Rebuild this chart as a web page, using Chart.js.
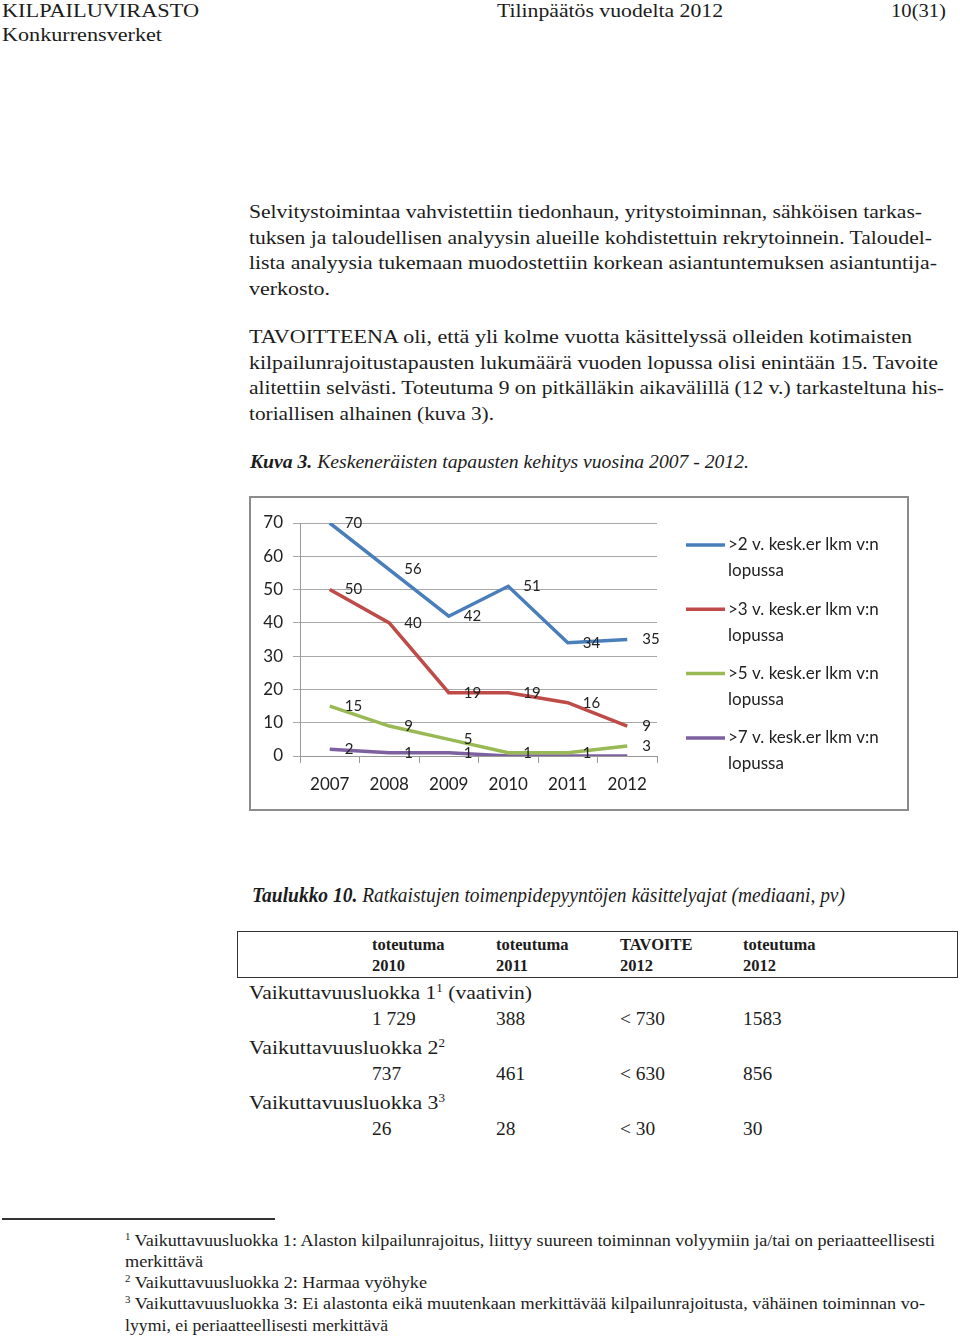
<!DOCTYPE html>
<html lang="fi">
<head>
<meta charset="utf-8">
<title>Tilinpäätös vuodelta 2012</title>
<script src="https://cdn.jsdelivr.net/npm/chart.js@4.4.1/dist/chart.umd.min.js"></script>
<style>
  body { margin: 0; background: #fff; }
  .page { position: relative; width: 960px; height: 1338px; overflow: hidden; color: #1c1c1c;
          font-family: 'Liberation Serif', 'DejaVu Serif', serif; }
  .ln { position: absolute; white-space: nowrap; line-height: 1; font-size: 19.4px; transform-origin: 0 50%; }
  .hd { font-size: 19.4px; line-height: 1.15; }
  .th { font-weight: bold; font-size: 16.5px; }
  .fn { font-size: 16px; }
  .ti { font-style: italic; }
  sup { font-size: 60%; line-height: 0; vertical-align: 0.6em; }
  .box { position: absolute; left: 237px; top: 931px; width: 721px; height: 47px; border: 1.5px solid #333; box-sizing: border-box; }
  .rule { position: absolute; left: 2px; top: 1218px; width: 273px; height: 2px; background: #333; }
  .chartbox { position: absolute; left: 249px; top: 496px; width: 660px; height: 315px;
              border: 2px solid #8c8c8c; box-sizing: border-box; }
  .chartbox canvas { position: absolute; left: 1px; top: 1px; }
</style>
</head>
<body>
<div class="page">
  <div class="ln hd" style="left:2px;top:0px" data-w="197">KILPAILUVIRASTO</div>
  <div class="ln hd" style="left:497px;top:0px" data-w="226">Tilinpäätös vuodelta 2012</div>
  <div class="ln hd" style="left:891px;top:0px" data-w="55">10(31)</div>
  <div class="ln hd" style="left:2px;top:24px" data-w="160">Konkurrensverket</div>

  <div class="ln" style="left:249px;top:202px" data-w="673">Selvitystoimintaa vahvistettiin tiedonhaun, yritystoiminnan, sähköisen tarkas-</div>
  <div class="ln" style="left:249px;top:228px" data-w="683">tuksen ja taloudellisen analyysin alueille kohdistettuin rekrytoinnein. Taloudel-</div>
  <div class="ln" style="left:249px;top:253px" data-w="688">lista analyysia tukemaan muodostettiin korkean asiantuntemuksen asiantuntija-</div>
  <div class="ln" style="left:249px;top:279px" data-w="81">verkosto.</div>

  <div class="ln" style="left:249px;top:327px" data-w="663">TAVOITTEENA oli, että yli kolme vuotta käsittelyssä olleiden kotimaisten</div>
  <div class="ln" style="left:249px;top:353px" data-w="689">kilpailunrajoitustapausten lukumäärä vuoden lopussa olisi enintään 15. Tavoite</div>
  <div class="ln" style="left:249px;top:378px" data-w="695">alitettiin selvästi. Toteutuma 9 on pitkälläkin aikavälillä (12 v.) tarkasteltuna his-</div>
  <div class="ln" style="left:249px;top:404px" data-w="245">toriallisen alhainen (kuva 3).</div>

  <div class="ln ti" style="left:250px;top:452px" data-w="499"><b>Kuva 3.</b> Keskeneräisten tapausten kehitys vuosina 2007 - 2012.</div>

  <div class="chartbox"><canvas id="myChart" width="654" height="309"></canvas></div>

  <div class="ln ti" style="left:252px;top:885px;font-size:21px" data-w="593"><b>Taulukko 10.</b> Ratkaistujen toimenpidepyyntöjen käsittelyajat (mediaani, pv)</div>

  <div class="box"></div>
  <div class="ln th" style="left:372px;top:937px">toteutuma</div>
  <div class="ln th" style="left:496px;top:937px">toteutuma</div>
  <div class="ln th" style="left:620px;top:937px">TAVOITE</div>
  <div class="ln th" style="left:743px;top:937px">toteutuma</div>
  <div class="ln th" style="left:372px;top:958px">2010</div>
  <div class="ln th" style="left:496px;top:958px">2011</div>
  <div class="ln th" style="left:620px;top:958px">2012</div>
  <div class="ln th" style="left:743px;top:958px">2012</div>

  <div class="ln" style="left:249px;top:983px" data-w="283">Vaikuttavuusluokka 1<sup>1</sup> (vaativin)</div>
  <div class="ln" style="left:372px;top:1009px">1 729</div>
  <div class="ln" style="left:496px;top:1009px">388</div>
  <div class="ln" style="left:620px;top:1009px">&lt; 730</div>
  <div class="ln" style="left:743px;top:1009px">1583</div>
  <div class="ln" style="left:249px;top:1038px" data-w="196">Vaikuttavuusluokka 2<sup>2</sup></div>
  <div class="ln" style="left:372px;top:1064px">737</div>
  <div class="ln" style="left:496px;top:1064px">461</div>
  <div class="ln" style="left:620px;top:1064px">&lt; 630</div>
  <div class="ln" style="left:743px;top:1064px">856</div>
  <div class="ln" style="left:249px;top:1093px" data-w="196">Vaikuttavuusluokka 3<sup>3</sup></div>
  <div class="ln" style="left:372px;top:1119px">26</div>
  <div class="ln" style="left:496px;top:1119px">28</div>
  <div class="ln" style="left:620px;top:1119px">&lt; 30</div>
  <div class="ln" style="left:743px;top:1119px">30</div>

  <div class="rule"></div>
  <div class="ln fn" style="left:125px;top:1233px" data-w="810"><sup>1</sup> Vaikuttavuusluokka 1: Alaston kilpailunrajoitus, liittyy suureen toiminnan volyymiin ja/tai on periaatteellisesti</div>
  <div class="ln fn" style="left:125px;top:1254px" data-w="78">merkittävä</div>
  <div class="ln fn" style="left:125px;top:1275px" data-w="302"><sup>2</sup> Vaikuttavuusluokka 2: Harmaa vyöhyke</div>
  <div class="ln fn" style="left:125px;top:1296px" data-w="800"><sup>3</sup> Vaikuttavuusluokka 3: Ei alastonta eikä muutenkaan merkittävää kilpailunrajoitusta, vähäinen toiminnan vo-</div>
  <div class="ln fn" style="left:125px;top:1318px" data-w="263">lyymi, ei periaatteellisesti merkittävä</div>
</div>

<script>
// data
const years = ['2007', '2008', '2009', '2010', '2011', '2012'];
const over2 = [70, 56, 42, 51, 34, 35];
const over3 = [50, 40, 19, 19, 16, 9];
const over5 = [15, 9, 5, 1, 1, 3];
const over7 = [2, 1, 1, 0, 0, 0];
const seriesNames = [
  ['>2 v. kesk.er lkm v:n', 'lopussa'],
  ['>3 v. kesk.er lkm v:n', 'lopussa'],
  ['>5 v. kesk.er lkm v:n', 'lopussa'],
  ['>7 v. kesk.er lkm v:n', 'lopussa'],
];
const seriesColors = ['#4a7ebb', '#be4b48', '#98b954', '#7d60a0'];
const yMin = 0, yMax = 70, yStep = 10;

// squeeze text lines to the widths of the original page
document.querySelectorAll('[data-w]').forEach(function (el) {
  const w = el.getBoundingClientRect().width;
  el.style.transform = 'scaleX(' + (el.dataset.w / w) + ')';
});

/* value labels right of each point */
const pointLabels = {
  id: 'pointLabels',
  afterDatasetsDraw(chart) {
    const ctx = chart.ctx;
    ctx.save();
    ctx.font = '15px Lato';
    ctx.fillStyle = '#222';
    ctx.textBaseline = 'middle';
    chart.data.datasets.forEach(function (ds, i) {
      chart.getDatasetMeta(i).data.forEach(function (pt, j) {
        if (ds.data[j] === 0) return;
        ctx.fillText(String(ds.data[j]), pt.x + 15, pt.y);
      });
    });
    ctx.restore();
  },
};

/* legend on the right, two lines per entry */
const sideLegend = {
  id: 'sideLegend',
  afterDraw(chart) {
    const ctx = chart.ctx;
    const x0 = chart.chartArea.right + 29;
    ctx.save();
    ctx.font = '17px Lato';
    ctx.textBaseline = 'middle';
    chart.data.datasets.forEach(function (ds, i) {
      const y = 46 + i * 64.3;
      ctx.strokeStyle = ds.borderColor;
      ctx.lineWidth = 3.5;
      ctx.beginPath();
      ctx.moveTo(x0, y);
      ctx.lineTo(x0 + 39, y);
      ctx.stroke();
      ctx.fillStyle = '#222';
      seriesNames[i].forEach(function (t, k) {
        ctx.fillText(t, x0 + 42, y + k * 26);
      });
    });
    ctx.restore();
  },
};

const ctx = document.getElementById('myChart').getContext('2d');
const chart = new Chart(ctx, {
  type: 'line',
  data: {
    labels: years,
    datasets: [over2, over3, over5, over7].map(function (vals, i) {
      return {
        label: seriesNames[i].join(' '),
        data: vals,
        borderColor: seriesColors[i],
        backgroundColor: seriesColors[i],
        borderWidth: 3.5,
        pointRadius: 0,
        tension: 0,
      };
    }),
  },
  options: {
    responsive: false,
    animation: false,
    layout: { padding: { top: 24, right: 249, left: 0, bottom: 0 } },
    plugins: { legend: { display: false }, tooltip: { enabled: false } },
    scales: {
      x: {
        offset: true,
        grid: { offset: true, drawOnChartArea: false, tickLength: 7, color: '#999' },
        border: { color: '#999' },
        ticks: { font: { family: 'Lato', size: 17 }, color: '#222', padding: 11 },
        afterFit: function (scale) { scale.height = 52; },
      },
      y: {
        min: yMin,
        max: yMax,
        ticks: { stepSize: yStep, font: { family: 'Lato', size: 17 }, color: '#222', padding: 10 },
        grid: { color: '#a8a8a8', tickLength: 7 },
        border: { color: '#999' },
        afterFit: function (scale) { scale.width = 48; },
      },
    },
  },
  plugins: [pointLabels, sideLegend],
});
</script>
</body>
</html>
